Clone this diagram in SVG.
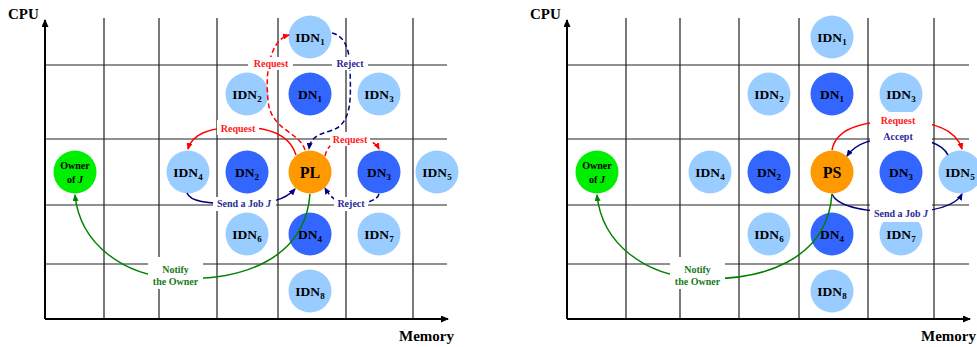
<svg xmlns="http://www.w3.org/2000/svg" width="977" height="347" viewBox="0 0 977 347">
<style>
text{font-family:"Liberation Serif","Times New Roman",serif;font-weight:bold}
.grid{stroke:#222;stroke-width:1.2;fill:none}
.axis{stroke:#000;stroke-width:2;fill:none}
.idn{fill:#99CCFF}
.dn{fill:#3366FF}
.lead{fill:#FF9900}
.own{fill:#00EE00}
.nl{font-size:13.5px;text-anchor:middle;fill:#000}
.sub{font-size:9px}
.big{font-size:16px;text-anchor:middle;fill:#000}
.ol{font-size:10px;text-anchor:middle;fill:#000}
.ax{font-size:15px;fill:#000}
.red{stroke:#FF0000;stroke-width:1.5;fill:none}
.navy{stroke:#000080;stroke-width:1.5;fill:none}
.green{stroke:#008000;stroke-width:1.5;fill:none}
.dash{stroke-dasharray:5,3}
.bg{fill:#fff}
.lr{font-size:10px;text-anchor:middle;fill:#FF2020}
.lb{font-size:10px;text-anchor:middle;fill:#2a2a96}
.lg{font-size:10px;text-anchor:middle;fill:#1a7a1a}
</style>
<defs>
<marker id="ar" markerWidth="7" markerHeight="6" refX="6" refY="3" orient="auto" markerUnits="userSpaceOnUse"><path d="M0,0 L7,3 L0,6 z" fill="#FF0000"/></marker>
<marker id="an" markerWidth="7" markerHeight="6" refX="6" refY="3" orient="auto" markerUnits="userSpaceOnUse"><path d="M0,0 L7,3 L0,6 z" fill="#000080"/></marker>
<marker id="ag" markerWidth="7" markerHeight="6" refX="6" refY="3" orient="auto" markerUnits="userSpaceOnUse"><path d="M0,0 L7,3 L0,6 z" fill="#008000"/></marker>
<marker id="ak" markerWidth="8" markerHeight="7" refX="7" refY="3.5" orient="auto" markerUnits="userSpaceOnUse"><path d="M0,0 L8,3.5 L0,7 z" fill="#000"/></marker>
</defs>
<rect width="977" height="347" fill="#fff"/>

<!-- Left panel grid -->
<g id="grid-left">
<path class="grid" d="M104,18V319M159,18V319M217,18V319M278,18V319M346,18V319M413,18V319"/>
<path class="grid" d="M45,65H447M45,139H447M45,205H447M45,264H447"/>
<path class="axis" d="M45,319V20" marker-end="url(#ak)"/>
<path class="axis" d="M45,319H448" marker-end="url(#ak)"/>
<text class="ax" x="8" y="19">CPU</text>
<text class="ax" x="454" y="341" text-anchor="end">Memory</text>
</g>

<!-- Right panel grid -->
<g id="grid-right">
<path class="grid" d="M626,18V319M680,18V319M739,18V319M799,18V319M868,18V319M934,18V319"/>
<path class="grid" d="M567,65H969M567,139H969M567,205H969M567,264H969"/>
<path class="axis" d="M567,319V20" marker-end="url(#ak)"/>
<path class="axis" d="M567,319H970" marker-end="url(#ak)"/>
<text class="ax" x="530" y="19">CPU</text>
<text class="ax" x="976" y="341" text-anchor="end">Memory</text>
</g>

<!-- Left panel nodes -->
<g id="L-IDN1"><circle class="idn" cx="310" cy="37" r="21.5"/><text class="nl" x="310" y="42">IDN<tspan class="sub" dy="2.5">1</tspan></text></g>
<g id="L-IDN2"><circle class="idn" cx="247" cy="94" r="21.5"/><text class="nl" x="247" y="99">IDN<tspan class="sub" dy="2.5">2</tspan></text></g>
<g id="L-DN1"><circle class="dn" cx="310" cy="94" r="21.5"/><text class="nl" x="310" y="99">DN<tspan class="sub" dy="2.5">1</tspan></text></g>
<g id="L-IDN3"><circle class="idn" cx="379" cy="94" r="21.5"/><text class="nl" x="379" y="99">IDN<tspan class="sub" dy="2.5">3</tspan></text></g>
<g id="L-Owner"><circle class="own" cx="75" cy="172" r="21.5"/><text class="ol" x="75" y="169">Owner</text><text class="ol" x="75" y="183">of <tspan font-style="italic">J</tspan></text></g>
<g id="L-IDN4"><circle class="idn" cx="188" cy="172" r="21.5"/><text class="nl" x="188" y="177">IDN<tspan class="sub" dy="2.5">4</tspan></text></g>
<g id="L-DN2"><circle class="dn" cx="247" cy="172" r="21.5"/><text class="nl" x="247" y="177">DN<tspan class="sub" dy="2.5">2</tspan></text></g>
<g id="L-PL"><circle class="lead" cx="310" cy="172" r="21.5"/><text class="big" x="310" y="177.5">PL</text></g>
<g id="L-DN3"><circle class="dn" cx="379" cy="172" r="21.5"/><text class="nl" x="379" y="177">DN<tspan class="sub" dy="2.5">3</tspan></text></g>
<g id="L-IDN5"><circle class="idn" cx="437" cy="172" r="21.5"/><text class="nl" x="437" y="177">IDN<tspan class="sub" dy="2.5">5</tspan></text></g>
<g id="L-IDN6"><circle class="idn" cx="247" cy="234" r="21.5"/><text class="nl" x="247" y="239">IDN<tspan class="sub" dy="2.5">6</tspan></text></g>
<g id="L-DN4"><circle class="dn" cx="310" cy="234" r="21.5"/><text class="nl" x="310" y="239">DN<tspan class="sub" dy="2.5">4</tspan></text></g>
<g id="L-IDN7"><circle class="idn" cx="379" cy="234" r="21.5"/><text class="nl" x="379" y="239">IDN<tspan class="sub" dy="2.5">7</tspan></text></g>
<g id="L-IDN8"><circle class="idn" cx="310" cy="291" r="21.5"/><text class="nl" x="310" y="296">IDN<tspan class="sub" dy="2.5">8</tspan></text></g>

<!-- Right panel nodes -->
<g id="R-IDN1"><circle class="idn" cx="832" cy="37" r="21.5"/><text class="nl" x="832" y="42">IDN<tspan class="sub" dy="2.5">1</tspan></text></g>
<g id="R-IDN2"><circle class="idn" cx="769" cy="94" r="21.5"/><text class="nl" x="769" y="99">IDN<tspan class="sub" dy="2.5">2</tspan></text></g>
<g id="R-DN1"><circle class="dn" cx="832" cy="94" r="21.5"/><text class="nl" x="832" y="99">DN<tspan class="sub" dy="2.5">1</tspan></text></g>
<g id="R-IDN3"><circle class="idn" cx="901" cy="94" r="21.5"/><text class="nl" x="901" y="99">IDN<tspan class="sub" dy="2.5">3</tspan></text></g>
<g id="R-Owner"><circle class="own" cx="597" cy="172" r="21.5"/><text class="ol" x="597" y="169">Owner</text><text class="ol" x="597" y="183">of <tspan font-style="italic">J</tspan></text></g>
<g id="R-IDN4"><circle class="idn" cx="710" cy="172" r="21.5"/><text class="nl" x="710" y="177">IDN<tspan class="sub" dy="2.5">4</tspan></text></g>
<g id="R-DN2"><circle class="dn" cx="769" cy="172" r="21.5"/><text class="nl" x="769" y="177">DN<tspan class="sub" dy="2.5">2</tspan></text></g>
<g id="R-PS"><circle class="lead" cx="832" cy="172" r="21.5"/><text class="big" x="832" y="177.5">PS</text></g>
<g id="R-DN3"><circle class="dn" cx="901" cy="172" r="21.5"/><text class="nl" x="901" y="177">DN<tspan class="sub" dy="2.5">3</tspan></text></g>
<g id="R-IDN5"><circle class="idn" cx="960" cy="172" r="21.5"/><text class="nl" x="960" y="177">IDN<tspan class="sub" dy="2.5">5</tspan></text></g>
<g id="R-IDN6"><circle class="idn" cx="769" cy="234" r="21.5"/><text class="nl" x="769" y="239">IDN<tspan class="sub" dy="2.5">6</tspan></text></g>
<g id="R-DN4"><circle class="dn" cx="832" cy="234" r="21.5"/><text class="nl" x="832" y="239">DN<tspan class="sub" dy="2.5">4</tspan></text></g>
<g id="R-IDN7"><circle class="idn" cx="901" cy="234" r="21.5"/><text class="nl" x="901" y="239">IDN<tspan class="sub" dy="2.5">7</tspan></text></g>
<g id="R-IDN8"><circle class="idn" cx="832" cy="291" r="21.5"/><text class="nl" x="832" y="296">IDN<tspan class="sub" dy="2.5">8</tspan></text></g>

<g id="connectors">
<!-- Left panel -->
<path class="red dash" d="M305,150 C300,132 270,130 268,100 C265,72 270,40 289,35" marker-end="url(#ar)"/>
<path class="navy dash" d="M332,33 C345,36 350,50 350,70 C351,100 352,125 330,131 C315,135 310,140 309,149" marker-end="url(#an)"/>
<path class="red" d="M296,155 C290,135 270,127 240,127 C210,127 192,134 188,149" marker-end="url(#ar)"/>
<path class="red dash" d="M325,156 C328,143 338,139 352,139 C366,139 375,141 379,149" marker-end="url(#ar)"/>
<path class="navy" d="M187,193 C190,201 205,204 240,204 C270,204 285,200 295,189" marker-end="url(#an)"/>
<path class="navy dash" d="M379,194 C377,201 365,204 350,204 C338,204 330,197 325,188" marker-end="url(#an)"/>
<path class="green" d="M310,194 C305,260 240,282 175,278 C125,276 80,245 75,195" marker-end="url(#ag)"/>
<!-- Right panel -->
<path class="red" d="M832,150 C836,128 865,121 898,121 C932,121 956,128 962,149" marker-end="url(#ar)"/>
<path class="navy" d="M948,155 C942,143 925,138 898,138 C872,138 856,143 847,156" marker-end="url(#an)"/>
<path class="navy" d="M832,194 C838,208 870,212 900,212 C930,212 955,207 962,194" marker-end="url(#an)"/>
<path class="green" d="M832,194 C827,260 762,282 697,278 C647,276 602,245 597,195" marker-end="url(#ag)"/>

<g id="edge-labels">
<rect class="bg" x="248" y="57" width="45" height="13"/><text class="lr" x="271" y="66.5">Request</text>
<rect class="bg" x="332" y="57" width="36" height="13"/><text class="lb" x="350" y="66.5">Reject</text>
<rect class="bg" x="217" y="120" width="42" height="15"/><text class="lr" x="238" y="131.5">Request</text>
<rect class="bg" x="330" y="132" width="40" height="14"/><text class="lr" x="350" y="142.5">Request</text>
<rect class="bg" x="213" y="197" width="63" height="14"/><text class="lb" x="244" y="206.5">Send a Job <tspan font-style="italic">J</tspan></text>
<rect class="bg" x="334" y="197" width="34" height="14"/><text class="lb" x="351" y="206.5">Reject</text>
<rect class="bg" x="148" y="257" width="55" height="32"/><text class="lg" x="175.5" y="273">Notify</text><text class="lg" x="175.5" y="285">the Owner</text>

<rect class="bg" x="870" y="112" width="62" height="34"/><text class="lr" x="898" y="124">Request</text><text class="lb" x="898" y="140">Accept</text>
<rect class="bg" x="870" y="204" width="62" height="18"/><text class="lb" x="901" y="216.5">Send a Job <tspan font-style="italic">J</tspan></text>
<rect class="bg" x="670" y="257" width="55" height="32"/><text class="lg" x="697.5" y="273">Notify</text><text class="lg" x="697.5" y="285">the Owner</text>
</g>
</g>
</svg>
